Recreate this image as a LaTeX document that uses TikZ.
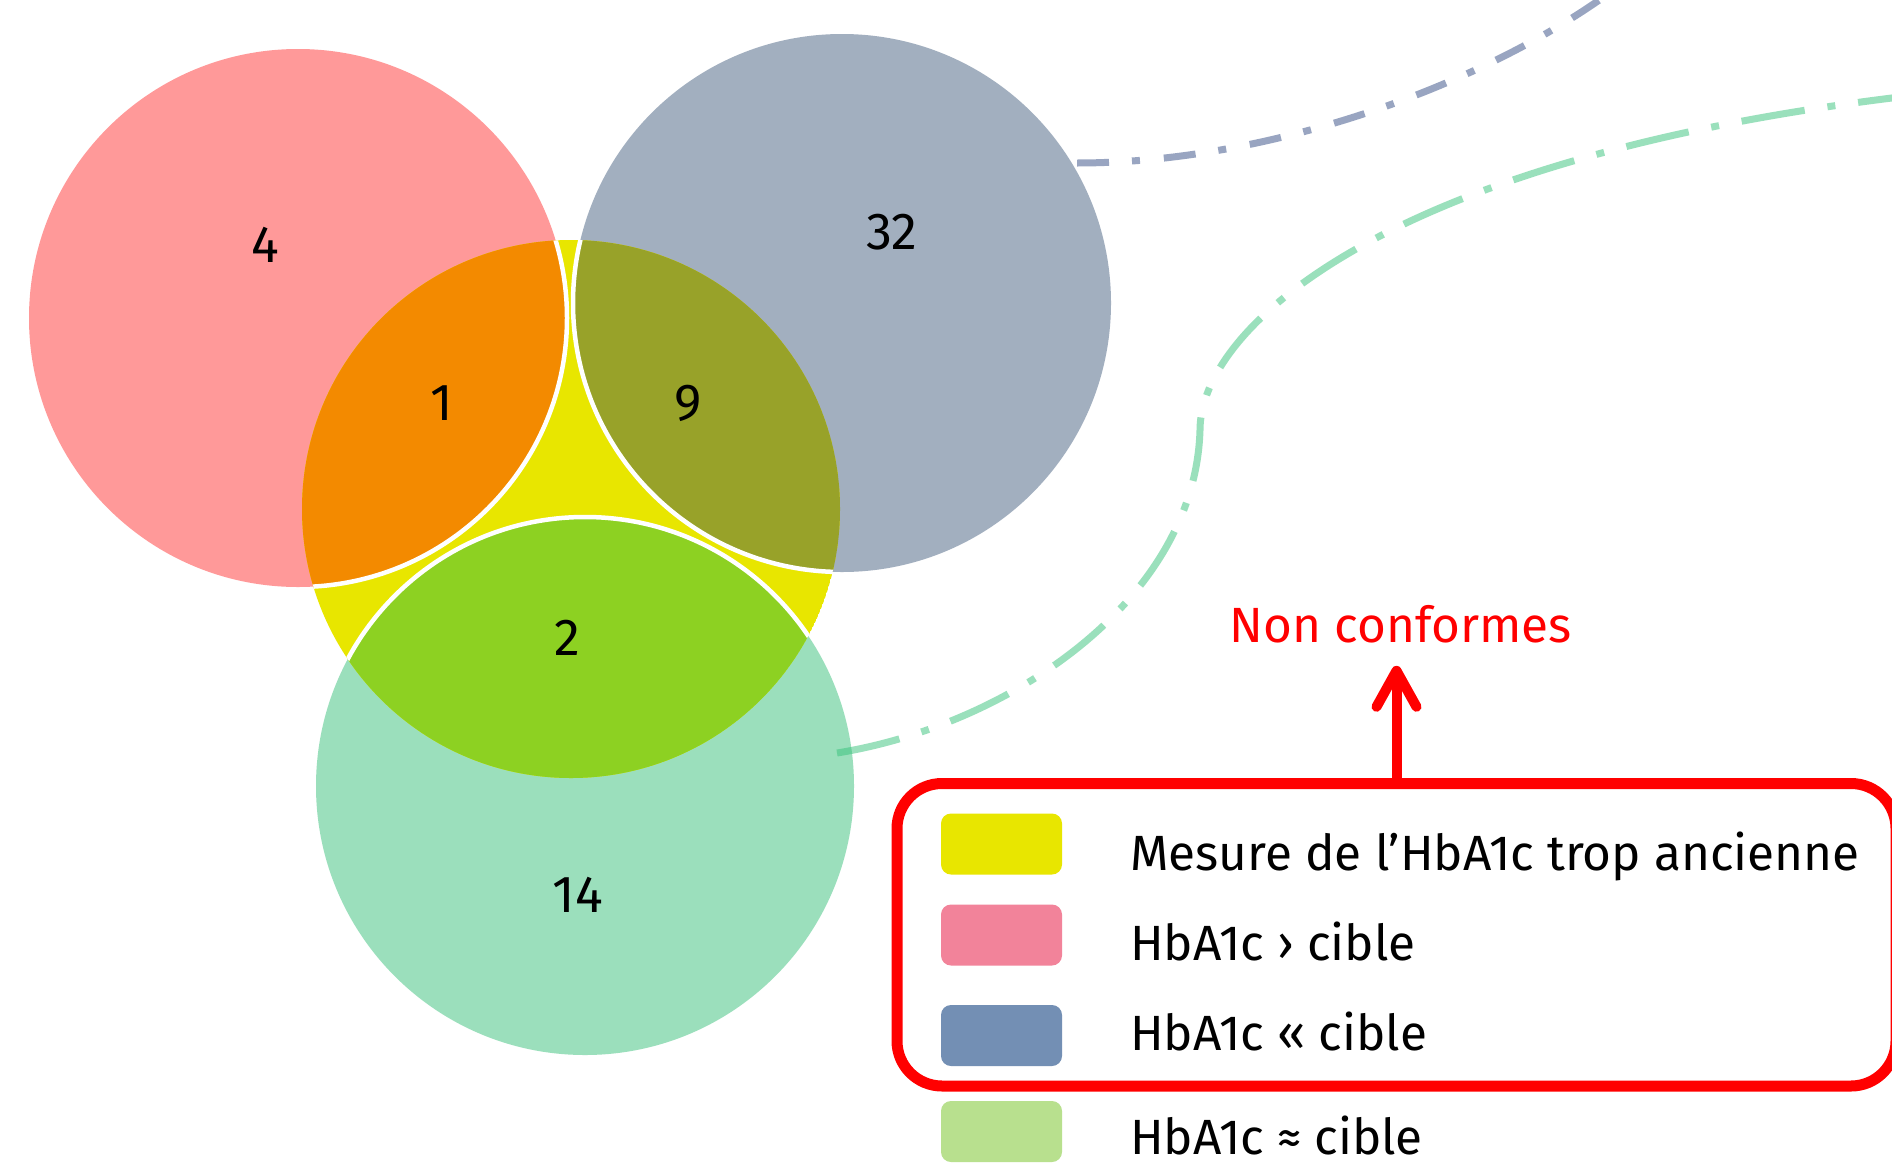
\documentclass[tikz,border=0pt]{standalone}
\usepackage{fontspec}
\setmainfont{Fira Sans}
\usetikzlibrary{positioning}
\usetikzlibrary{arrows.meta}

\definecolor{pinkc}{HTML}{FF9999}
\definecolor{bluec}{HTML}{A2AFBF}
\definecolor{tealc}{HTML}{9BDFBC}
\definecolor{yelc}{HTML}{E8E600}
\definecolor{orangec}{HTML}{F38A00}
\definecolor{olivec}{HTML}{98A229}
\definecolor{greenc}{HTML}{8DD122}
\definecolor{legpink}{HTML}{F2839A}
\definecolor{legblue}{HTML}{738FB4}
\definecolor{leggreen}{HTML}{B8E08E}
\definecolor{linkblue}{HTML}{354D85}
\definecolor{linkgreen}{HTML}{37C37B}

\newcommand{\legfont}{\fontsize{49.5}{60}\selectfont}
\newcommand{\numfont}{\fontsize{52}{62}\selectfont}

\tikzset{
	% numbers in the circles
	vennnum/.style={font=\numfont},
	% white edges inside the yellow set
	whiteline/.style={draw=white,line width=4.5pt},
	% dash-dot links
	bluelink/.style={draw=linkblue,opacity=0.5,line width=7pt,dash pattern=on 32pt off 23pt on 8pt off 24pt},
	greenlink/.style={draw=linkgreen,opacity=0.5,line width=7pt,dash pattern=on 64pt off 23pt on 8pt off 23pt},
	% legend
	swatch/.style={minimum width=121pt,minimum height=61pt,rounded corners=10pt,inner sep=0pt},
	legtext/.style={anchor=base west,inner sep=0pt,font=\legfont},
	redbox/.style={draw=red,line width=11pt,rounded corners=45pt,minimum width=999pt,minimum height=302.5pt},
}

\begin{document}
\begin{tikzpicture}[x=1pt,y=-1pt]
	\clip (0,0) rectangle (1892,1165);
	\fill[white] (0,0) rectangle (1892,1165);
	
	\coordinate (cP) at (298,318);
	\coordinate (cB) at (842,303);
	\coordinate (cY) at (571,509);
	\coordinate (cT) at (585,786);
	
	\fill[pinkc] (cP) circle (269pt);
	\fill[bluec] (cB) circle (269pt);
	\fill[tealc] (cT) circle (269pt);
	
	\begin{scope}
		\clip (cY) circle (269pt);
		\fill[yelc] (cY) circle (269pt);
		\fill[orangec] (cP) circle (269pt);
		\fill[olivec] (cB) circle (269pt);
		\fill[greenc] (cT) circle (269pt);
		\draw[whiteline] (cP) circle (269pt) (cB) circle (269pt) (cT) circle (269pt);
	\end{scope}
	
	\node[vennnum] (n4) at (265,245) {4};
	\node[vennnum] (n32) at (892,232) {32};
	\node[vennnum] (n1) at (442,403) {1};
	\node[vennnum] (n9) at (688,403) {9};
	\node[vennnum] (n2) at (567,638) {2};
	\node[vennnum] (n14) at (578,895) {14};
	
	% links
	\coordinate (bstart) at (1077,163);
	\coordinate (bend) at (1650,-40);
	\draw[bluelink] (bstart) .. controls (1300,163) and (1540,60) .. (bend);
	
	\coordinate (gstart) at (837,753);
	\coordinate (gturn) at (1200,430);
	\coordinate (gend) at (1900,97);
	\draw[greenlink] (gstart) .. controls (1010,725) and (1195,600) .. (gturn)
		.. controls (1200,330) and (1380,160) .. (gend);
	
	% legend
	\node[redbox] (box) at (1396.5,934.75) {};
	
	\node[swatch,fill=yelc] (sw1) at (1001.5,844) {};
	\node[swatch,fill=legpink] (sw2) at (1001.5,935) {};
	\node[swatch,fill=legblue] (sw3) at (1001.5,1035.5) {};
	\node[swatch,fill=leggreen] (sw4) at (1001.5,1131.5) {};
	
	\node[legtext] (lt1) at (1130,870) {Mesure de l'HbA1c trop ancienne};
	\node[legtext] (lt2) at (1130,960) {HbA1c › cible};
	\node[legtext] (lt3) at (1130,1050) {HbA1c « cible};
	\node[legtext] (lt4) at (1130,1154) {HbA1c ≈ cible};
	
	\node[font=\legfont,text=red,inner sep=0pt,anchor=base] (nc) at (1401,642) {Non conformes};
	\draw[red,line width=10pt,-{Straight Barb[length=36pt,width=40pt,round]},shorten >=23pt]
		(box.north) -- (box.north |- nc.south);
	
\end{tikzpicture}
\end{document}
